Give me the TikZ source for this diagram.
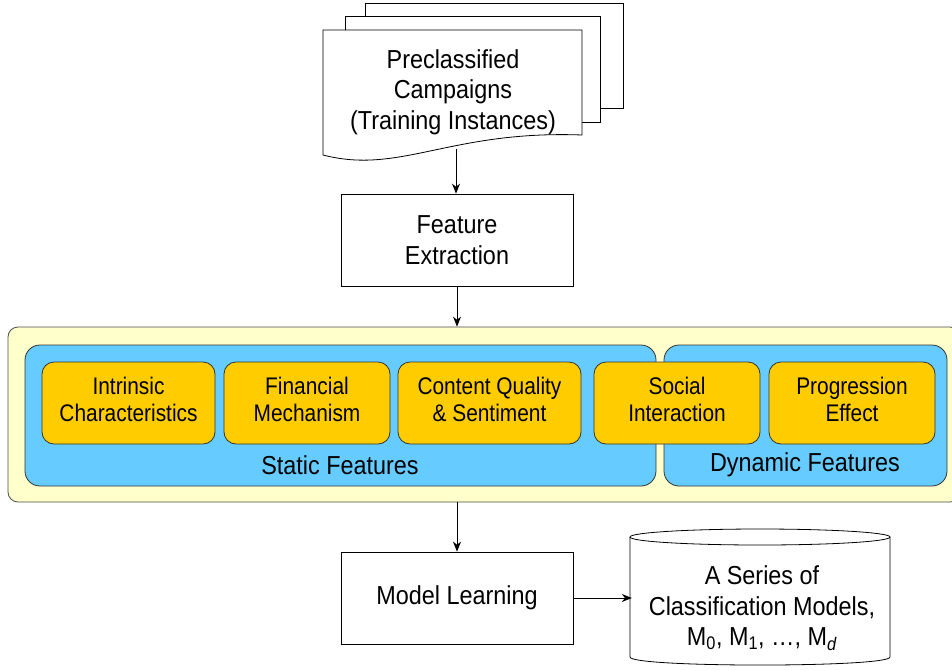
\documentclass[tikz,border=0pt]{standalone}
\usepackage{fontspec}
\setmainfont{Liberation Sans}[FakeStretch=0.9]
\newfontfamily\narrowfont{Liberation Sans}[FakeStretch=0.87]
\usetikzlibrary{arrows.meta}
\definecolor{paleyellow}{HTML}{FFFFCC}
\definecolor{skyblue}{HTML}{66CCFF}
\definecolor{gold}{HTML}{FFCC00}
\begin{document}
\begin{tikzpicture}[x=1pt,y=-1pt,
 every node/.style={font=\fontsize{26}{30.5}\selectfont, inner sep=0pt},
 box/.style={draw, line width=0.8pt, fill=white, align=center},
 page/.style={draw, line width=0.8pt, fill=white},
 featbox/.style={draw=black!80, line width=0.8pt, fill=gold, rounded corners=12pt, minimum height=82pt},
 ftext/.style={align=center, font=\narrowfont\fontsize{24}{27}\selectfont},
 grp/.style={draw=black!80, line width=0.8pt, fill=skyblue, rounded corners=15pt, minimum height=141pt},
 arr/.style={-{Stealth[length=10pt,width=8pt]}, line width=0.8pt}
]
\useasboundingbox (0,0) rectangle (952,670);
\clip (0,0) rectangle (952,670);

% stacked documents
\draw[page] (365,3) rectangle (623,108);
\draw[page] (345,16) rectangle (600,122);
\draw[page] (323,30) -- (582,30) -- (582,135) .. controls (450,130) and (400,175) .. (323,155) -- cycle;
\node[align=center] (doc) at (453,92) {Preclassified\\Campaigns\\(Training Instances)};
\coordinate (docb) at (456,149);

% feature extraction
\node[box, minimum width=232pt, minimum height=92pt] (fe) at (457,240) {Feature\\Extraction};

% feature container
\node[draw=black!70, line width=0.8pt, fill=paleyellow, rounded corners=10pt, minimum width=952pt, minimum height=175pt] (feat) at (484,414.5) {};
\node[grp, minimum width=631pt] (stat) at (340.5,415.5) {};
\node[grp, minimum width=283pt] (dyn) at (805.5,415.5) {};

\node[featbox, minimum width=173pt] (f1) at (128.5,403) {};
\node[featbox, minimum width=166pt] (f2) at (307,403) {};
\node[featbox, minimum width=183pt] (f3) at (489.5,403) {};
\node[featbox, minimum width=166pt] (f4) at (677,403) {};
\node[featbox, minimum width=166pt] (f5) at (852,403) {};
\node[ftext] (f1t) at ([yshift=4pt]f1.center) {Intrinsic\\Characteristics};
\node[ftext] (f2t) at ([yshift=4pt]f2.center) {Financial\\Mechanism};
\node[ftext] (f3t) at ([yshift=4pt]f3.center) {Content Quality\\\& Sentiment};
\node[ftext] (f4t) at ([yshift=4pt]f4.center) {Social\\Interaction};
\node[ftext] (f5t) at ([yshift=4pt]f5.center) {Progression\\Effect};

\node (slab) at (340,465) {Static Features};
\node (dlab) at (805,465) {Dynamic Features};

% model learning
\node[box, minimum width=232pt, minimum height=92pt] (ml) at (457,598) {Model Learning};

% cylinder
\draw[page] (630,537) -- (630,657) .. controls (630,667.7) and (890,667.7) .. (890,657) -- (890,537);
\draw[page] (760,537) ellipse[x radius=130, y radius=8];
\node[align=center, minimum width=260pt, minimum height=100pt] (cyl) at (762,608) {A Series of\\Classification Models,\\M\textsubscript{0}, M\textsubscript{1}, …, M\textsubscript{\textit{d}}};

% connectors
\draw[arr] (docb) -- (docb |- fe.north);
\draw[arr] (fe.south) -- (fe.south |- feat.north);
\draw[arr] (ml.north |- feat.south) -- (ml.north);
\draw[arr] (ml.east) -- (ml.east -| cyl.west);
\end{tikzpicture}
\end{document}
